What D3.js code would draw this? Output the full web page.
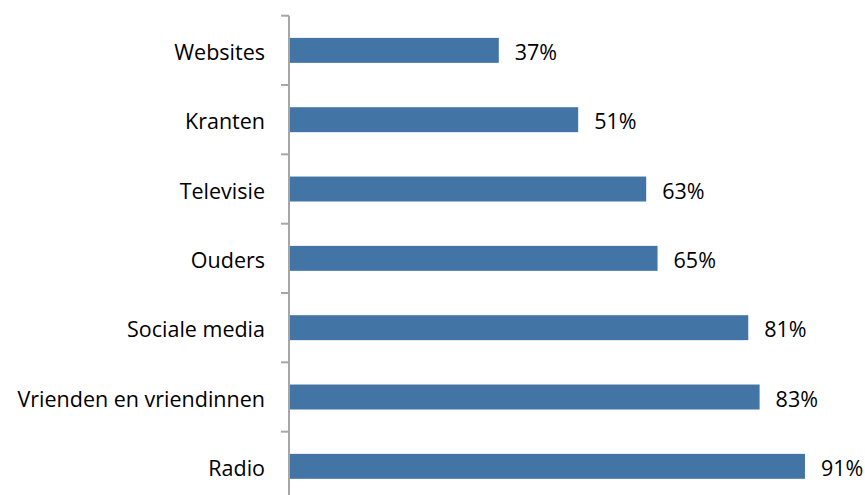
<!DOCTYPE html>
<html><head><meta charset="utf-8">
<script src="https://cdn.jsdelivr.net/npm/d3@7"></script>
<style>body{margin:0;background:#fff}svg{display:block}</style>
</head><body>
<svg id="c" width="865" height="495"></svg>
<script>
const categories = ["Websites","Kranten","Televisie","Ouders","Sociale media","Vrienden en vriendinnen","Radio"];
const values = [37,51,63,65,81,83,91];

const svg = d3.select("#c");
const x = d3.scaleLinear().domain([0,100]).range([289,856]);
const y = d3.scaleBand().domain(categories).range([15.7,501]).paddingInner(0.64).paddingOuter(0.32);
const font = "'Open Sans', sans-serif";
const fs = 21.5;

svg.selectAll("rect.bar").data(values).join("rect")
  .attr("x", x(0)).attr("y",(d,i)=>y(categories[i]))
  .attr("width", d=>x(d)-x(0)).attr("height", y.bandwidth())
  .attr("fill","#4275a5");

const yAxis = d3.scaleLinear().domain([0,categories.length]).range([15.7,501]);
svg.append("line").attr("x1",289).attr("x2",289).attr("y1",15.7).attr("y2",501)
  .attr("stroke","#a6a6a6").attr("stroke-width",2);
svg.selectAll("line.tick").data(d3.range(categories.length+1)).join("line")
  .attr("x1",281).attr("x2",289).attr("y1",d=>yAxis(d)).attr("y2",d=>yAxis(d))
  .attr("stroke","#a6a6a6").attr("stroke-width",2);

svg.selectAll("text.cat").data(categories).join("text")
  .attr("x",265).attr("y",d=>y(d)+y.bandwidth()/2 + 9.5)
  .attr("text-anchor","end").attr("font-family",font).attr("font-size",fs)
  .attr("fill","#000").text(d=>d);

svg.selectAll("text.val").data(values).join("text")
  .attr("x",d=>x(d)+16).attr("y",(d,i)=>y(categories[i])+y.bandwidth()/2 + 9.5)
  .attr("font-family",font).attr("font-size",fs).attr("fill","#000").text(d=>d+"%");
</script>
</body></html>
